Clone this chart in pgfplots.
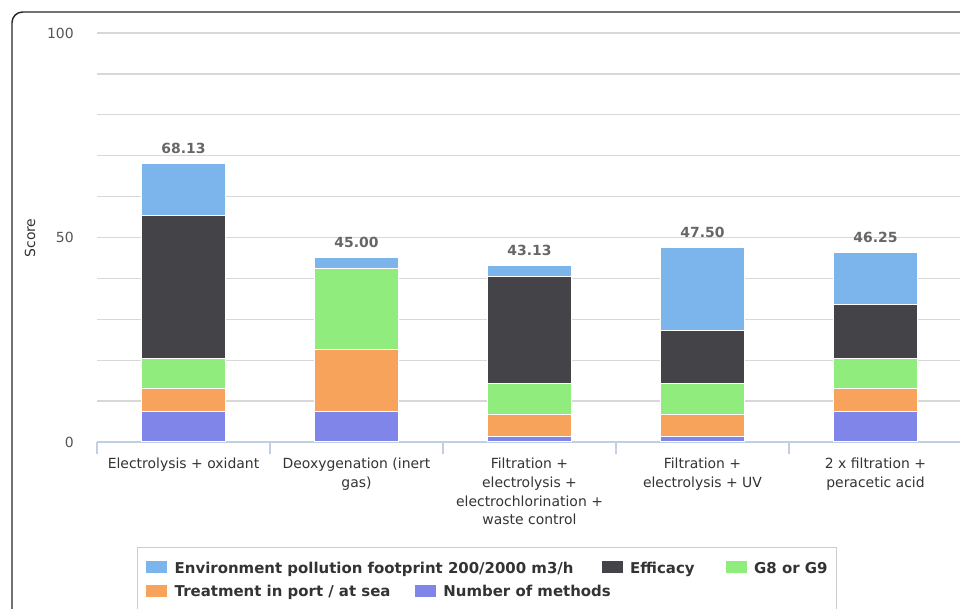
\documentclass[border=0pt]{standalone}
\usepackage{pgfplots}
\pgfplotsset{compat=1.18}
\usepackage{pgfplotstable}
\usepackage{fontspec}
\setmainfont{DejaVu Sans}
\definecolor{cblue}{HTML}{7CB5EC}
\definecolor{cdark}{HTML}{434348}
\definecolor{cgreen}{HTML}{90ED7D}
\definecolor{corange}{HTML}{F7A35C}
\definecolor{cpurple}{HTML}{8085E9}
\definecolor{caxis}{HTML}{C0D0E0}
\definecolor{cgrid}{HTML}{D8D8D8}
\definecolor{clabel}{HTML}{666666}
\definecolor{ctext}{HTML}{333333}
\definecolor{ctick}{HTML}{555555}
\definecolor{clegborder}{HTML}{CCCCCC}

\pgfplotstableread{
x purple orange green dark blue top total
0 7.5 5.5 7.5 35 12.63 0 68.13
1 7.5 15 20 0 2.5 0 45.00
2 1.25 5.5 7.5 26.25 2.63 0 43.13
3 1.25 5.5 7.5 13 20.25 0 47.50
4 7.5 5.5 7.5 13 12.75 0 46.25
}\datatable

\newcommand{\legfont}{\bfseries\fontsize{11.25}{13}\selectfont}
\newcommand{\legentry}[2]{\textcolor{#1}{\rule{15.75bp}{9bp}}\hspace{5.6bp}\textcolor{ctext}{#2}}

\begin{document}
\begin{tikzpicture}
\path[use as bounding box] (0,0) rectangle (720bp,456.75bp);
\clip (0,0) rectangle (720bp,456.75bp);
\draw[line width=1.1bp, color=black!85, rounded corners=8bp] (9bp,-30bp) -- (9bp,447.75bp) -- (780bp,447.75bp);
\begin{axis}[
  at={(72.75bp,125.25bp)}, anchor=south west,
  width=648.75bp, height=306.75bp, scale only axis,
  ybar stacked, bar width=63bp,
  stacked ignores zero=false,
  xmin=-0.5, xmax=4.5, ymin=0, ymax=100,
  axis x line*=bottom, axis y line*=left,
  separate axis lines,
  x axis line style={draw=caxis, line width=1.5bp},
  y axis line style={draw=none},
  xtick={0,1,2,3,4},
  xticklabels={
    {Electrolysis + oxidant},
    {Deoxygenation (inert\\gas)},
    {Filtration +\\electrolysis +\\electrochlorination +\\waste control},
    {Filtration +\\electrolysis + UV},
    {2 x filtration +\\peracetic acid}},
  minor xtick={-0.5,0.5,1.5,2.5,3.5,4.5},
  xtick style={draw=caxis, line width=1bp},
  major tick length=0pt,
  minor tick length=9bp,
  tick align=outside,
  ytick={0,10,...,100},
  yticklabels={0,,,,,50,,,,,100},
  ytick style={draw=none},
  ymajorgrids,
  major grid style={draw=cgrid, line width=1bp},
  xticklabel style={font=\fontsize{10.5}{14}\selectfont, text=ctext, align=center, anchor=north, inner sep=0pt, yshift=-12bp},
  yticklabel style={font=\fontsize{10.5}{12}\selectfont, text=ctick, anchor=east, inner sep=0pt, xshift=-17.25bp},
  clip=false,
]
\addplot[fill=cpurple, draw=white, line width=0.75bp] table[x=x, y=purple] {\datatable};
\addplot[fill=corange, draw=white, line width=0.75bp] table[x=x, y=orange] {\datatable};
\addplot[fill=cgreen, draw=white, line width=0.75bp] table[x=x, y=green] {\datatable};
\addplot[fill=cdark, draw=white, line width=0.75bp] table[x=x, y=dark] {\datatable};
\addplot[fill=cblue, draw=white, line width=0.75bp] table[x=x, y=blue] {\datatable};
\addplot[draw=none, fill=none,
  point meta=explicit symbolic,
  nodes near coords={\pgfplotspointmeta},
  every node near coord/.append style={font=\bfseries\fontsize{10.5}{12}\selectfont, text=clabel, anchor=base, inner sep=0pt, yshift=7.5bp}]
  table[x=x, y=top, meta=total] {\datatable};
\end{axis}
\node[rotate=90, font=\fontsize{10.5}{12}\selectfont, text=ctext] at (22.5bp,278.25bp) {Score};
% legend
\draw[draw=clegborder, fill=white, line width=0.75bp] (102.75bp,-10bp) rectangle (627bp,45.75bp);
\node[anchor=base west, inner sep=0pt, font=\legfont] at (109.5bp,26.8bp) {\legentry{cblue}{Environment pollution footprint 200/2000 m3/h}};
\node[anchor=base west, inner sep=0pt, font=\legfont] at (451.1bp,26.8bp) {\legentry{cdark}{Efficacy}};
\node[anchor=base west, inner sep=0pt, font=\legfont] at (544.1bp,26.8bp) {\legentry{cgreen}{G8 or G9}};
\node[anchor=base west, inner sep=0pt, font=\legfont] at (109.5bp,9.2bp) {\legentry{corange}{Treatment in port / at sea}};
\node[anchor=base west, inner sep=0pt, font=\legfont] at (311.0bp,9.2bp) {\legentry{cpurple}{Number of methods}};
\end{tikzpicture}
\end{document}
